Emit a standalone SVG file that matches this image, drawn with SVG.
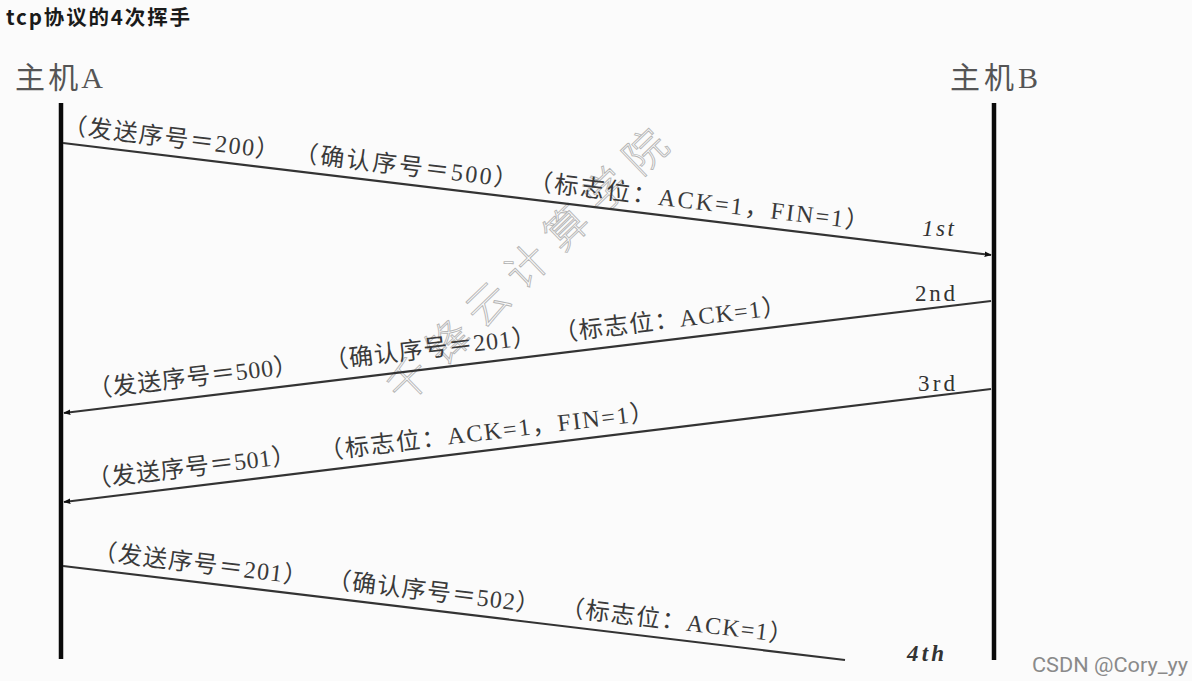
<svg xmlns="http://www.w3.org/2000/svg" width="1192" height="681" viewBox="0 0 1192 681">
<defs>
<style>
.title{font-family:"Noto Sans CJK SC","Noto Sans",sans-serif;font-weight:bold;font-size:20.5px;fill:#1a1a1a}
.host{font-family:"Liberation Serif","Noto Sans CJK SC",serif;font-size:30px;fill:#555}
.lbl{font-family:"Liberation Serif","Noto Sans CJK SC",serif;font-size:24px;fill:#3a3a3a}
.ord{font-family:"Liberation Serif",serif;font-style:italic;font-size:23px;fill:#333}
.up{font-style:normal}
.bd{font-weight:bold}
.life{stroke:#0a0a0a;stroke-width:4.5}
.msg{stroke:#333;stroke-width:2.2;fill:none}
.wm{font-family:"Noto Sans CJK SC",sans-serif;font-weight:300;font-size:42px;fill:none;stroke:#b5b5b5;stroke-width:0.9}
.csdn{font-family:Roboto,"Liberation Sans",sans-serif;font-size:20px;fill:#8a8a8a}
</style>
<marker id="ah" viewBox="0 0 10 10" refX="9" refY="5" markerWidth="7" markerHeight="7" orient="auto" markerUnits="userSpaceOnUse">
<path d="M0,1 L10,5 L0,9 z" fill="#111"/>
</marker>
</defs>
<rect width="1192" height="681" fill="#fbfbfb"/>
<text class="title" x="6" y="25" textLength="184">tcp协议的4次挥手</text>

<g id="hostA">
<text class="host" x="15" y="88" textLength="88">主机A</text>
<line class="life" x1="61" y1="103" x2="61" y2="659"/>
</g>
<g id="hostB">
<text class="host" x="950" y="88" textLength="88">主机B</text>
<line class="life" x1="994" y1="103" x2="994" y2="660"/>
</g>

<g id="watermark">
<g transform="translate(527,266) rotate(-44)">
<text class="wm" x="0" y="15" text-anchor="middle" textLength="371">千锋云计算学院</text>
</g>
</g>

<g id="connectors">
<line class="msg" x1="63" y1="143" x2="991" y2="255" marker-end="url(#ah)"/>
<line class="msg" x1="991" y1="301" x2="64" y2="413" marker-end="url(#ah)"/>
<line class="msg" x1="991" y1="389" x2="64" y2="502" marker-end="url(#ah)"/>
<line class="msg" x1="63" y1="566" x2="845" y2="660"/>
</g>

<g id="label1" transform="translate(62,133) rotate(6.87)">
<text class="lbl" x="0" y="0" textLength="218">（发送序号＝200）</text>
<text class="lbl" x="233" y="0" textLength="225">（确认序号＝500）</text>
<text class="lbl" x="469" y="0" textLength="343">（标志位：ACK=1，FIN=1）</text>
</g>
<text class="ord" x="922" y="236" textLength="32">1st</text>

<g id="label2" transform="translate(89,398) rotate(-6.87)">
<text class="lbl" x="0" y="0" textLength="211">（发送序号＝500）</text>
<text class="lbl" x="238" y="0" textLength="213">（确认序号＝201）</text>
<text class="lbl" x="469" y="0" textLength="234">（标志位：ACK=1）</text>
</g>
<text class="ord up" x="915" y="301" textLength="40">2nd</text>

<g id="label3" transform="translate(88,488) rotate(-6.87)">
<text class="lbl" x="0" y="0" textLength="210">（发送序号＝501）</text>
<text class="lbl" x="234" y="0" textLength="337">（标志位：ACK=1，FIN=1）</text>
</g>
<text class="ord up" x="918" y="391" textLength="37">3rd</text>

<g id="label4" transform="translate(92,559) rotate(6.87)">
<text class="lbl" x="0" y="0" textLength="216">（发送序号＝201）</text>
<text class="lbl" x="236" y="0" textLength="214">（确认序号＝502）</text>
<text class="lbl" x="471" y="0" textLength="234">（标志位：ACK=1）</text>
</g>
<text class="ord bd" x="907" y="661" textLength="37">4th</text>

<text class="csdn" x="1032" y="672" textLength="156" lengthAdjust="spacingAndGlyphs">CSDN @Cory_yy</text>
</svg>
